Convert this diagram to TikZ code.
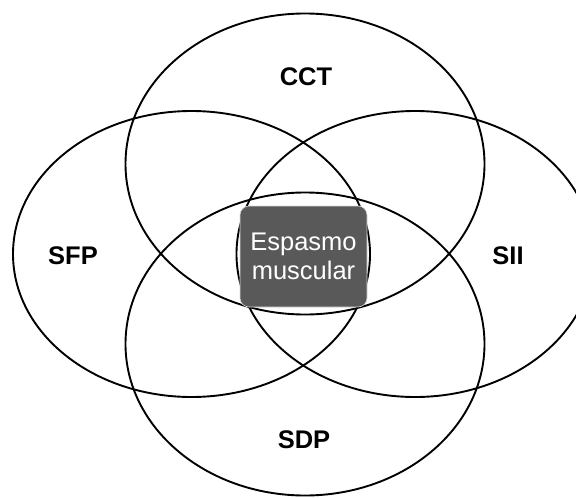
\documentclass[tikz,border=0pt]{standalone}
\usepackage{fontspec}
\setmainfont{Liberation Sans}
\definecolor{boxgray}{RGB}{89,89,89}
\begin{document}
\begin{tikzpicture}[x=1pt,y=-1pt,
  ring/.style={draw=black,line width=1.9pt},
  setlabel/.style={font=\fontsize{25.5}{30}\selectfont\bfseries,inner sep=0pt},
  core/.style={fill=boxgray,draw=white!85!black,line width=0.6pt,rounded corners=9pt,
    text=white,align=center,font=\fontsize{25.5}{29}\selectfont,
    minimum width=127pt,minimum height=101pt,inner sep=0pt}]
\useasboundingbox (0,0) rectangle (576,498);
\begin{scope}
\clip (0,0) rectangle (576,498);
\draw[ring] (305,164) ellipse [x radius=179.5,y radius=150.5];
\draw[ring] (191.5,254) ellipse [x radius=178.5,y radius=143];
\draw[ring] (415,254) ellipse [x radius=178.5,y radius=143];
\draw[ring] (305,344) ellipse [x radius=179.5,y radius=151.5];
\end{scope}
\node[core] (core) at (303.5,256.5) {Espasmo\\muscular};
\node[setlabel] (cct) at (306,77) {CCT};
\node[setlabel] (sfp) at (73,256) {SFP};
\node[setlabel] (sii) at (508,256) {SII};
\node[setlabel] (sdp) at (304,440) {SDP};
\end{tikzpicture}
\end{document}
